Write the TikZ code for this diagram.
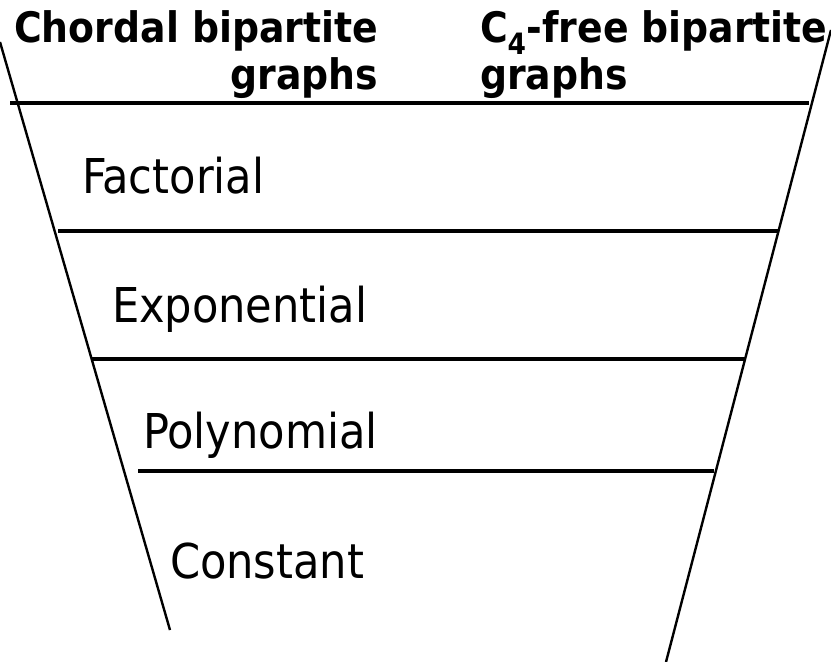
\documentclass[tikz,border=0pt]{standalone}
\usepackage{fontspec}
\setmainfont{DejaVu Sans Condensed}[BoldFont={DejaVu Sans Condensed Bold}]
\usepackage{tikz}
\usetikzlibrary{positioning}

\begin{document}
\begin{tikzpicture}[x=1pt,y=-1pt,every node/.style={inner sep=0pt,outer sep=0pt},
    head/.style={font=\fontsize{42}{47}\selectfont\bfseries},
    level/.style={font=\fontsize{48}{56}\selectfont,anchor=base west},
    band/.style={line width=3.4pt},
    side/.style={line width=2.4pt}]
        \useasboundingbox (0,0) rectangle (831,662);
        % header
        \node[head,align=right,anchor=base east] (chordal) at (378,89) {Chordal bipartite\\graphs};
        \node[head,align=left,anchor=base west] (cfree) at (480,89) {C\textsubscript{4}-free bipartite\\graphs};
        % levels
        \node[level] (fact) at (82,193) {Factorial};
        \node[level] (expo) at (112,322) {Exponential};
        \node[level] (poly) at (143,448) {Polynomial};
        \node[level] (const) at (170,578) {Constant};
        % funnel
        \draw[side] (0,42) -- (170,630);
        \draw[side] (831,30) -- (666,662);
        \draw[band] (10,103) -- (809,103);
        \draw[band] (58,231) -- (778,231);
        \draw[band] (91,359) -- (746,359);
        \draw[band] (138,471) -- (714,471);
      \end{tikzpicture}
\end{document}
